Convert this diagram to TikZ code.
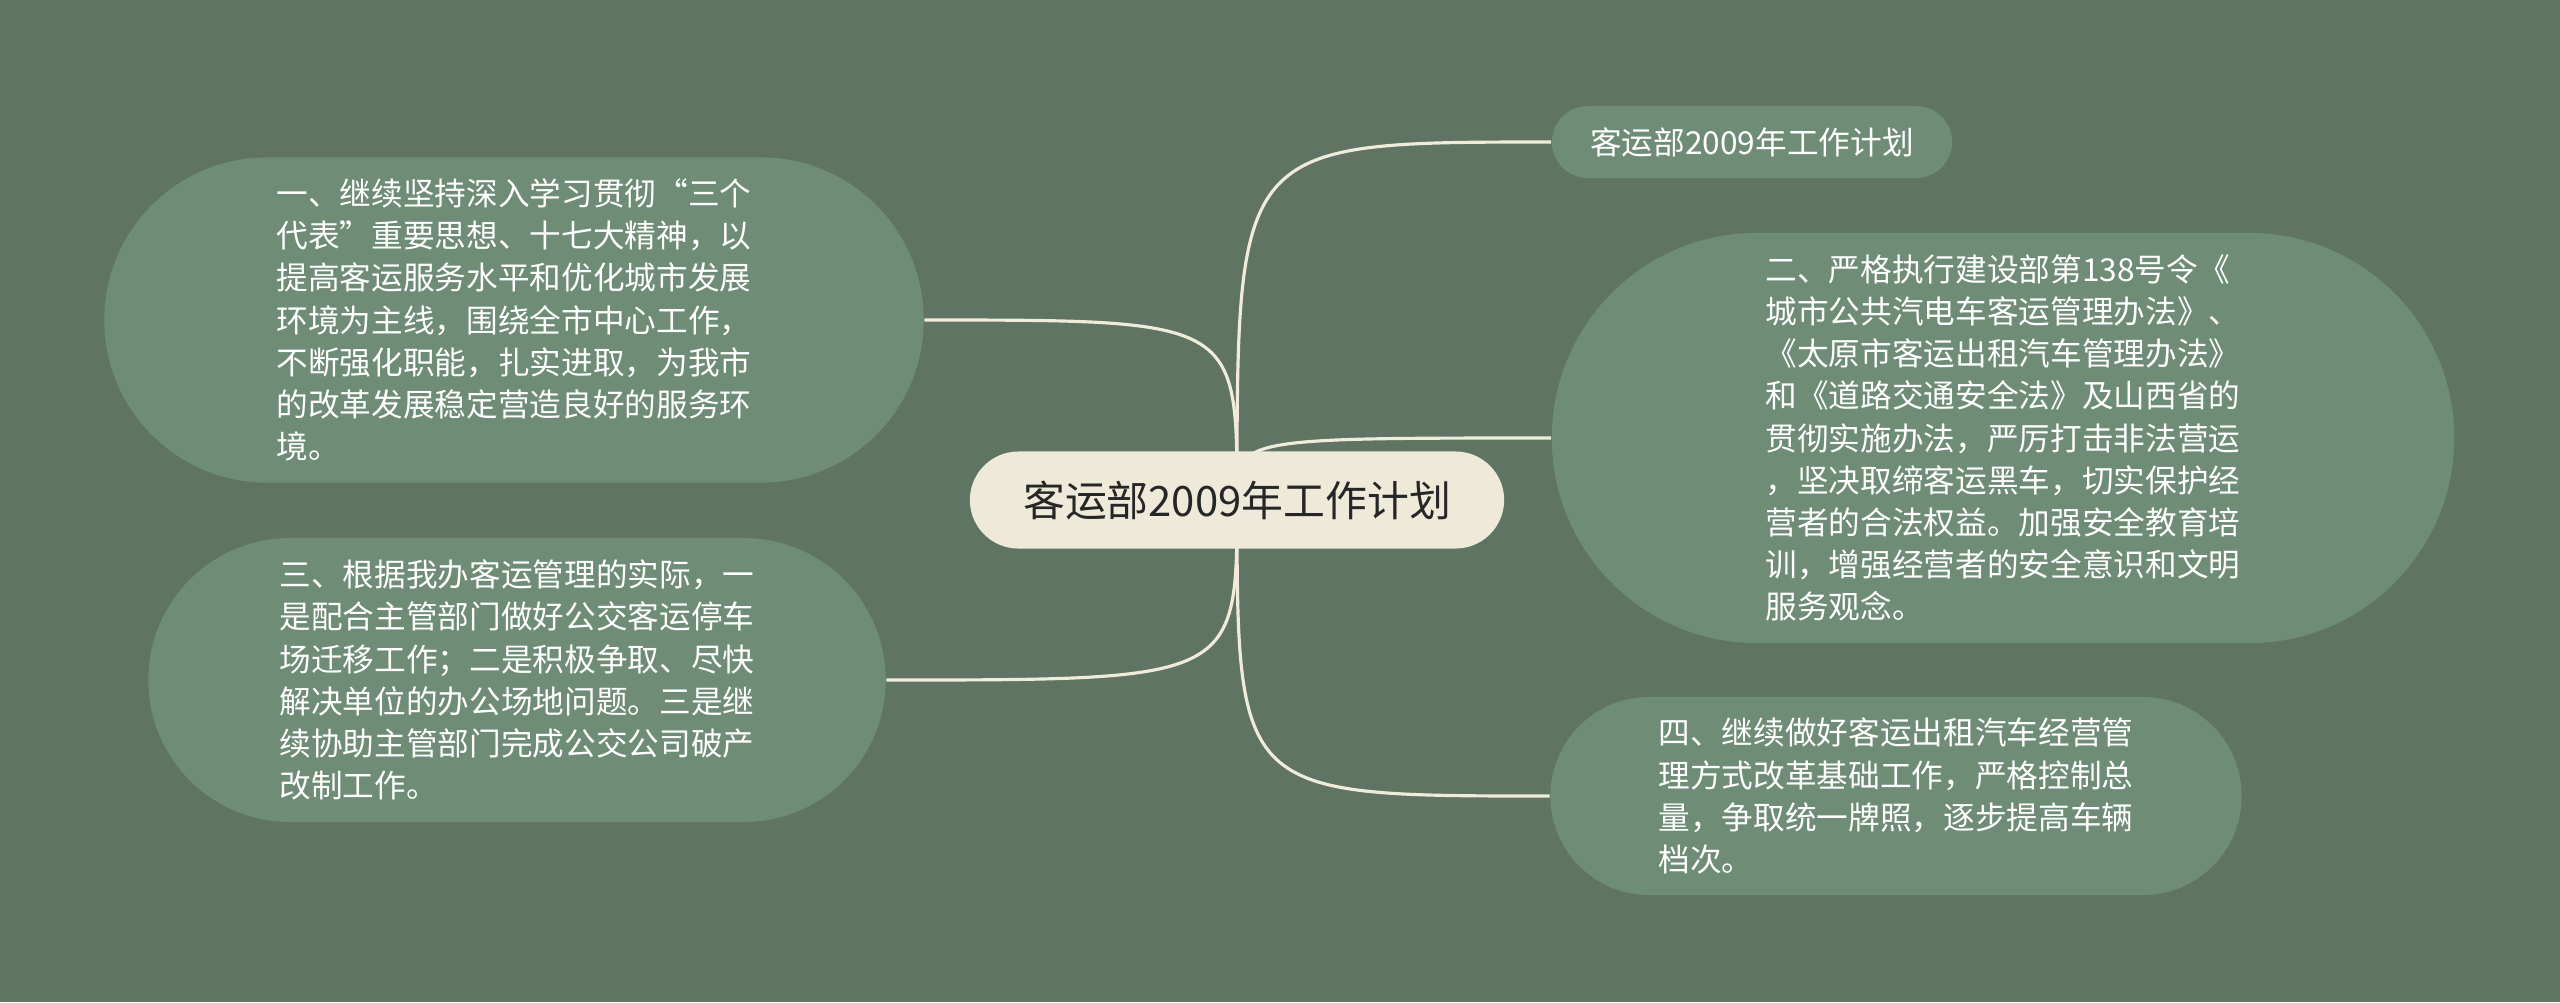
\documentclass[tikz,border=0pt]{standalone}
\usepackage{fontspec}
\setmainfont{Noto Sans CJK SC}
\usepackage{tikz}
\usetikzlibrary{positioning}

\definecolor{bgcol}{HTML}{607463}
\definecolor{leafcol}{HTML}{6E8C76}
\definecolor{rootcol}{HTML}{EEE9D8}
\definecolor{linecol}{HTML}{F0ECDC}

\pgfdeclarelayer{bg}
\pgfdeclarelayer{links}
\pgfsetlayers{bg,links,main}

\begin{document}
\begin{tikzpicture}[x=0.01cm, y=-0.01cm,
    leaf/.style={fill=leafcol, text=white, inner sep=0pt, align=left,
      font=\fontsize{9pt}{12pt}\selectfont},
    root/.style={fill=rootcol, text=black!85, inner sep=0pt,
      minimum width=5.34cm, minimum height=0.97cm, rounded corners=0.485cm,
      font=\fontsize{11.9pt}{14pt}\selectfont},
    link/.style={draw=linecol, line width=0.9pt}]

    % Background
    \begin{pgfonlayer}{bg}
      \fill[bgcol] (0,0) rectangle (2560,1002);
    \end{pgfonlayer}

    % Central topic
    \node[root] (root) at (1237,500) {客运部2009年工作计划};

    % Branches
    \node[leaf, minimum width=4cm, minimum height=0.72cm, rounded corners=0.36cm] (title) at (1752,142) {客运部2009年工作计划};

    \node[leaf, minimum width=8.19cm, minimum height=3.25cm, rounded corners=1.625cm] (one) at (514,320) {一、继续坚持深入学习贯彻“三个\\代表”重要思想、十七大精神，以\\提高客运服务水平和优化城市发展\\环境为主线，围绕全市中心工作，\\不断强化职能，扎实进取，为我市\\的改革发展稳定营造良好的服务环\\境。};

    \node[leaf, minimum width=7.37cm, minimum height=2.84cm, rounded corners=1.42cm] (three) at (517,680) {三、根据我办客运管理的实际，一\\是配合主管部门做好公交客运停车\\场迁移工作；二是积极争取、尽快\\解决单位的办公场地问题。三是继\\续协助主管部门完成公交公司破产\\改制工作。};

    \node[leaf, minimum width=9.02cm, minimum height=4.1cm, rounded corners=2.05cm] (two) at (2003,438) {二、严格执行建设部第138号令《\\城市公共汽电车客运管理办法》、\\《太原市客运出租汽车管理办法》\\和《道路交通安全法》及山西省的\\贯彻实施办法，严厉打击非法营运\\，坚决取缔客运黑车，切实保护经\\营者的合法权益。加强安全教育培\\训，增强经营者的安全意识和文明\\服务观念。};

    \node[leaf, minimum width=6.91cm, minimum height=1.98cm, rounded corners=0.99cm] (four) at (1896,796) {四、继续做好客运出租汽车经营管\\理方式改革基础工作，严格控制总\\量，争取统一牌照，逐步提高车辆\\档次。};

    % Connectors
    \begin{pgfonlayer}{links}
      \foreach \n/\a in {one/east, three/east, title/west, two/west, four/west} {
        \draw[link] (root.center) .. controls (root.center |- \n.\a) .. (\n.\a);
      }
    \end{pgfonlayer}

\end{tikzpicture}
\end{document}
